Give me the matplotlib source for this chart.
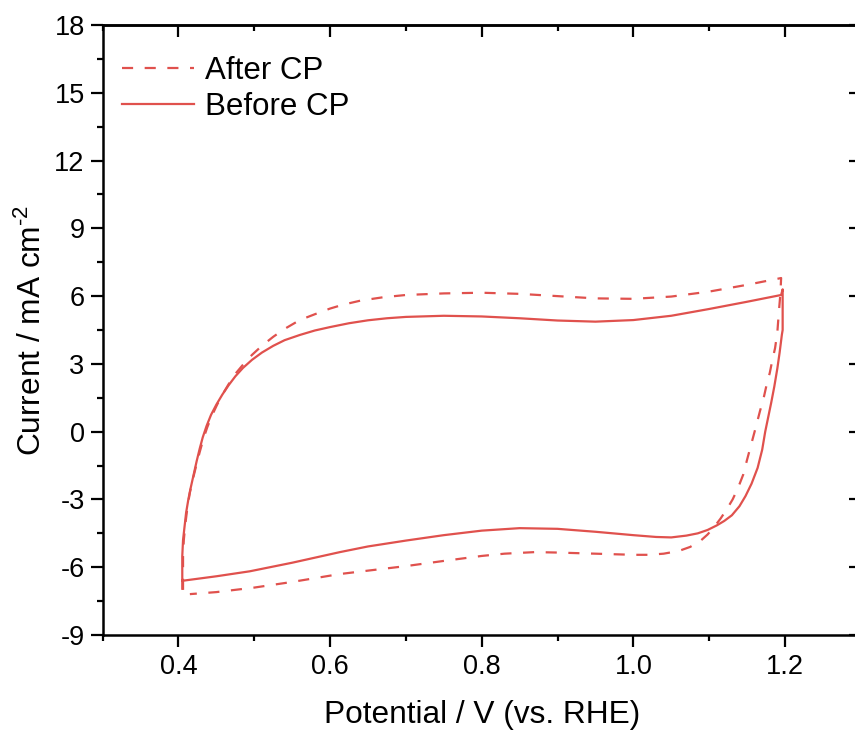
import numpy as np
import matplotlib
matplotlib.use('Agg')
import matplotlib.pyplot as plt
from matplotlib import rcParams
import matplotlib.ticker as mticker

rcParams['font.family'] = 'Liberation Sans'
rcParams['axes.unicode_minus'] = False
rcParams['mathtext.fontset'] = 'custom'
rcParams['mathtext.rm'] = 'Liberation Sans'
rcParams['mathtext.it'] = 'Liberation Sans'

# ── data ────────────────────────────────────────────────────────────────────
# Before CP (solid): anodic sweep, then cathodic sweep
v_before = [0.405, 0.405, 0.406, 0.408, 0.410, 0.413, 0.416, 0.420, 0.424,
            0.428, 0.432, 0.437, 0.443, 0.450, 0.458, 0.466, 0.475, 0.485,
            0.497, 0.510, 0.525, 0.540, 0.560, 0.580, 0.600, 0.625, 0.650,
            0.675, 0.700, 0.750, 0.800, 0.850, 0.900, 0.950, 1.000, 1.050,
            1.100, 1.150, 1.195, 1.197, 1.197,
            1.196, 1.193, 1.190, 1.186, 1.182, 1.178, 1.174, 1.170, 1.164,
            1.156, 1.148, 1.140, 1.130, 1.120, 1.110, 1.098, 1.085, 1.070,
            1.050, 1.030, 1.000, 0.950, 0.900, 0.850, 0.800, 0.750, 0.700,
            0.650, 0.613, 0.550, 0.494, 0.450, 0.405]
i_before = [-6.95, -5.50, -4.80, -4.20, -3.60, -3.00, -2.50, -1.90, -1.30,
            -0.75, -0.25, 0.25, 0.75, 1.20, 1.65, 2.05, 2.45, 2.82,
            3.18, 3.50, 3.80, 4.05, 4.28, 4.48, 4.63, 4.80, 4.93,
            5.02, 5.08, 5.13, 5.10, 5.02, 4.92, 4.87, 4.94, 5.13,
            5.43, 5.75, 6.05, 6.30, 4.50,
            4.30, 3.50, 2.80, 2.00, 1.30, 0.65, 0.00, -0.80, -1.60,
            -2.30, -2.85, -3.30, -3.70, -3.95, -4.15, -4.35, -4.50, -4.60,
            -4.68, -4.66, -4.58, -4.43, -4.30, -4.27, -4.38, -4.58, -4.82,
            -5.08, -5.33, -5.80, -6.18, -6.40, -6.60]

# After CP (dashed)
v_after = [0.406, 0.406, 0.407, 0.409, 0.412, 0.415, 0.419, 0.423, 0.428,
           0.433, 0.438, 0.444, 0.451, 0.459, 0.467, 0.476, 0.486, 0.497,
           0.510, 0.525, 0.540, 0.560, 0.580, 0.600, 0.617, 0.640, 0.670,
           0.700, 0.750, 0.800, 0.850, 0.900, 0.950, 1.000, 1.050, 1.100,
           1.150, 1.195,
           1.194, 1.192, 1.190, 1.187, 1.183, 1.180, 1.176, 1.172, 1.167,
           1.162, 1.156, 1.150, 1.145, 1.138, 1.131, 1.123, 1.115, 1.107,
           1.098, 1.088, 1.075, 1.060, 1.040, 1.020, 1.000, 0.950, 0.900,
           0.870, 0.830, 0.800, 0.750, 0.700, 0.650, 0.613, 0.550, 0.500,
           0.450, 0.415]
i_after = [-7.00, -5.50, -4.80, -4.10, -3.30, -2.70, -2.10, -1.55, -0.90,
           -0.30, 0.20, 0.70, 1.20, 1.70, 2.15, 2.60, 3.00, 3.40,
           3.80, 4.20, 4.55, 4.94, 5.20, 5.45, 5.62, 5.80, 5.95,
           6.05, 6.12, 6.15, 6.10, 6.00, 5.90, 5.88, 5.98, 6.20,
           6.50, 6.80,
           6.10, 5.30, 4.40, 3.70, 3.10, 2.60, 2.10, 1.50, 0.90,
           0.25, -0.50, -1.25, -1.90, -2.50, -3.00, -3.45, -3.85, -4.20,
           -4.55, -4.85, -5.10, -5.28, -5.40, -5.45, -5.45, -5.40, -5.35,
           -5.33, -5.40, -5.50, -5.72, -5.95, -6.15, -6.30, -6.65, -6.90,
           -7.10, -7.19]

y_ticks = [-9, -6, -3, 0, 3, 6, 9, 12, 15, 18]
x_ticks = [0.4, 0.6, 0.8, 1.0, 1.2]

RED = '#E0514D'

# ── figure ─────────────────────────────────────────────────────────────────
fig = plt.figure(figsize=(8.55, 7.31), dpi=100)
ax = fig.add_axes([0.1201, 0.1313, 0.8866, 0.8345])

ax.plot(v_after, i_after, color=RED, lw=1.6, linestyle=(0, (5.0, 5.2)),
        label='After CP')
ax.plot(v_before, i_before, color=RED, lw=1.6, label='Before CP')

ax.set_xlim(0.3, 1.3)
ax.set_ylim(-9, 18)
ax.set_xticks(x_ticks)
ax.set_yticks(y_ticks)
ax.xaxis.set_major_formatter(mticker.FormatStrFormatter('%.1f'))
ax.xaxis.set_minor_locator(mticker.AutoMinorLocator(2))
ax.yaxis.set_minor_locator(mticker.AutoMinorLocator(2))

for s in ax.spines.values():
    s.set_linewidth(1.8)

ax.tick_params(which='both', direction='out', width=1.6, labelsize=19.5,
               top=False, right=False)
ax.tick_params(axis='x', pad=5.5)
ax.tick_params(axis='y', pad=4.5)
ax.tick_params(which='major', length=8.5)
ax.tick_params(which='minor', length=4.5)

# ticks pointing inwards on the top and right spines
ax_t = ax.secondary_xaxis('top')
ax_t.set_xticks(x_ticks)
ax_t.xaxis.set_minor_locator(mticker.AutoMinorLocator(2))
ax_t.tick_params(which='both', direction='in', width=1.6, labeltop=False)
ax_t.tick_params(which='major', length=8.5)
ax_t.tick_params(which='minor', length=4.5)
ax_t.spines['top'].set_linewidth(1.8)

ax_r = ax.secondary_yaxis('right')
ax_r.set_yticks(y_ticks)
ax_r.yaxis.set_minor_locator(mticker.AutoMinorLocator(2))
ax_r.tick_params(which='both', direction='in', width=1.6, labelright=False)
ax_r.tick_params(which='major', length=8.5)
ax_r.tick_params(which='minor', length=4.5)
ax_r.spines['right'].set_linewidth(1.8)

ax.set_xlabel('Potential / V (vs. RHE)', fontsize=22.8, labelpad=14)
ax.set_ylabel(r'Current / mA cm$^{\text{-2}}$', fontsize=22.8)
ax.yaxis.set_label_coords(-0.072, 0.5)

ax.legend(loc='upper left', bbox_to_anchor=(-0.011, 0.995), frameon=False,
          fontsize=22.5, handlelength=2.3, handletextpad=0.35,
          labelspacing=0.2, borderaxespad=0.5, borderpad=0.4)

fig.savefig('out.png', dpi=100)
